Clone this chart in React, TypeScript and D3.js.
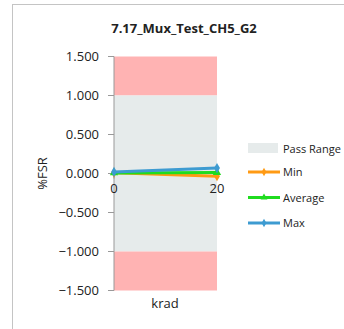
import React from "react";
import * as d3 from "d3";

const krad = [0, 20];
const minValues = [0.01, -0.035];
const avgValues = [0.008, 0.012];
const maxValues = [0.02, 0.07];
const yTicks = [1.5, 1.0, 0.5, 0.0, -0.5, -1.0, -1.5];
const passRange = [-1.0, 1.0];
const failLimit = [-1.5, 1.5];

const series = [
  { name: "Min", values: minValues, color: "#ff9a14", marker: "diamond" },
  { name: "Average", values: avgValues, color: "#1fdc1f", marker: "triangle" },
  { name: "Max", values: maxValues, color: "#3d9bd1", marker: "diamond" },
];

const font = "Open Sans, Liberation Sans, sans-serif";

export default function App() {
  const x = d3.scaleLinear().domain([0, 20]).range([114, 217]);
  const y = d3.scaleLinear().domain([-1.5, 1.5]).range([290.5, 56.5]);
  const fmt = d3.format(".3f");

  const line = d3
    .line<number>()
    .x((_, i) => x(krad[i]))
    .y((d) => y(d));

  const sym = (m: string) =>
    d3.symbol(m === "triangle" ? d3.symbolTriangle : d3.symbolDiamond, 30)();

  return (
    <svg
      width={344}
      height={329}
      style={{ position: "absolute", left: 0, top: 0, fontFamily: font }}
    >
      <rect x={12.5} y={4.5} width={340} height={340} fill="#fff" stroke="#c4c4c4" />
      <text x={184} y={33} textAnchor="middle" fontSize={13} fontWeight="bold" fill="#222">
        7.17_Mux_Test_CH5_G2
      </text>

      {/* bands */}
      <rect x={x(0)} y={y(failLimit[1])} width={x(20) - x(0)} height={y(passRange[1]) - y(failLimit[1])} fill="#ffb3b3" />
      <rect x={x(0)} y={y(passRange[1])} width={x(20) - x(0)} height={y(passRange[0]) - y(passRange[1])} fill="#e6ebeb" />
      <rect x={x(0)} y={y(passRange[0])} width={x(20) - x(0)} height={y(failLimit[0]) - y(passRange[0])} fill="#ffb3b3" />

      {/* y axis */}
      <line x1={x(0)} x2={x(0)} y1={y(1.5)} y2={y(-1.5)} stroke="#999" />
      {yTicks.map((t) => (
        <g key={t}>
          <line x1={x(0) - 6} x2={x(0)} y1={y(t)} y2={y(t)} stroke="#999" />
          <text x={99} y={y(t) + 4.5} textAnchor="end" fontSize={13} fill="#222">
            {fmt(t)}
          </text>
        </g>
      ))}
      <text
        transform={`translate(47,${y(0)}) rotate(-90)`}
        textAnchor="middle"
        fontSize={13}
        fill="#222"
      >
        %FSR
      </text>

      {/* x axis at zero */}
      <line x1={x(0)} x2={x(20)} y1={y(0)} y2={y(0)} stroke="#999" />
      {krad.map((k) => (
        <g key={k}>
          <line x1={x(k)} x2={x(k)} y1={y(0)} y2={y(0) + 5} stroke="#999" />
          <text x={x(k)} y={y(0) + 19} textAnchor="middle" fontSize={13} fill="#222">
            {k}
          </text>
        </g>
      ))}
      <text x={165} y={308} textAnchor="middle" fontSize={13} fill="#222">
        krad
      </text>

      {/* series */}
      {series.map((s) => (
        <g key={s.name}>
          <path d={line(s.values) || ""} fill="none" stroke={s.color} strokeWidth={3} />
          {s.values.map((v, i) => (
            <path key={i} d={sym(s.marker) || ""} transform={`translate(${x(krad[i])},${y(v)})`} fill={s.color} />
          ))}
        </g>
      ))}

      {/* legend */}
      <rect x={248} y={143} width={30} height={10} fill="#e6ebeb" />
      <text x={283} y={152.5} fontSize={11} fill="#222">Pass Range</text>
      {series.map((s, i) => {
        const ly = 172 + i * 25.5;
        return (
          <g key={s.name}>
            <line x1={248} x2={280} y1={ly} y2={ly} stroke={s.color} strokeWidth={3} />
            <path d={d3.symbol(s.marker === "triangle" ? d3.symbolTriangle : d3.symbolDiamond, 20)() || ""} transform={`translate(264,${ly})`} fill={s.color} />
            <text x={283} y={ly + 4} fontSize={11} fill="#222">{s.name}</text>
          </g>
        );
      })}
    </svg>
  );
}
